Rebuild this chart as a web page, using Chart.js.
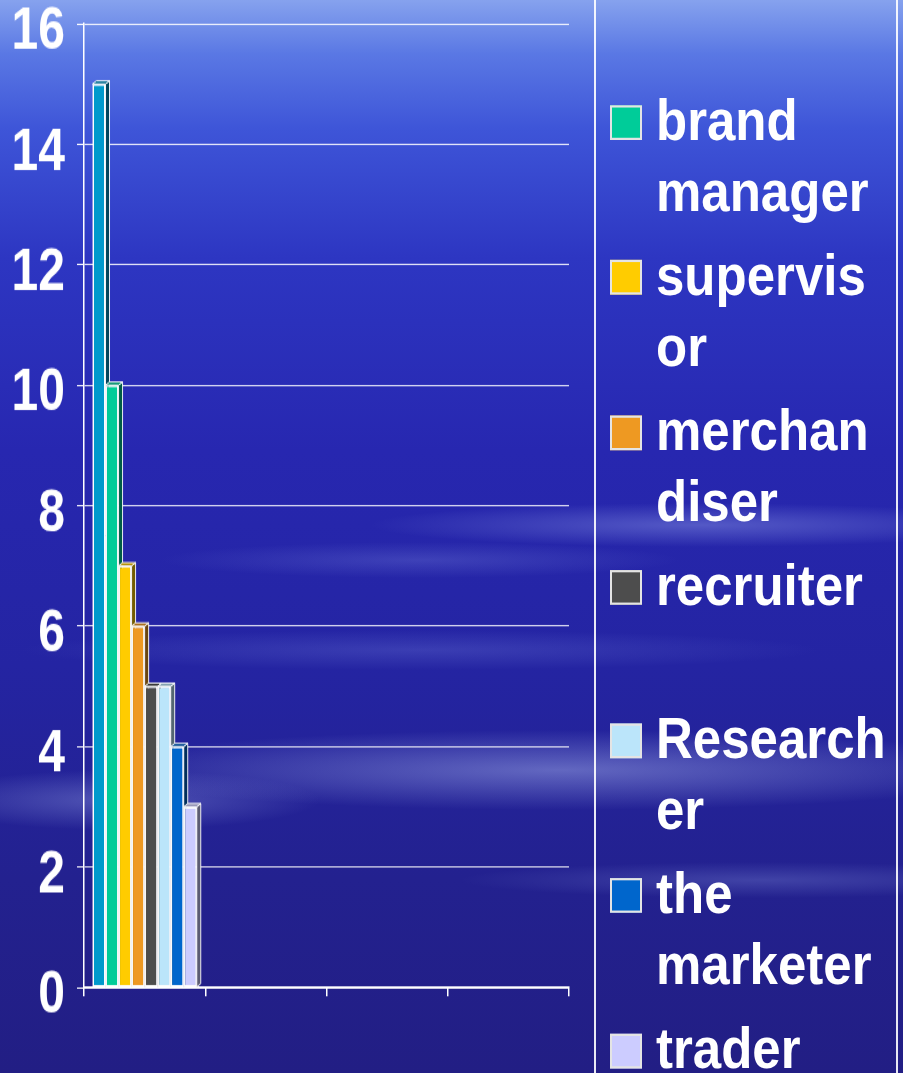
<!DOCTYPE html>
<html>
<head>
<meta charset="utf-8">
<script src="https://cdn.jsdelivr.net/npm/chart.js@4.4.1/dist/chart.umd.min.js"></script>
<style>
    html, body {
        margin: 0;
        padding: 0;
        width: 903px;
        height: 1073px;
        overflow: hidden;
    }
    body {
        position: relative;
        font-family: "Liberation Sans", Arial, sans-serif;
        background:
            radial-gradient(ellipse 330px 22px at 700px 525px, rgba(130, 140, 225, 0.5), transparent),
            radial-gradient(ellipse 260px 18px at 420px 560px, rgba(120, 130, 220, 0.3), transparent),
            radial-gradient(ellipse 480px 40px at 560px 770px, rgba(150, 160, 225, 0.55), transparent),
            radial-gradient(ellipse 200px 30px at 120px 800px, rgba(140, 150, 220, 0.45), transparent),
            radial-gradient(ellipse 300px 18px at 760px 880px, rgba(120, 130, 210, 0.35), transparent),
            radial-gradient(ellipse 400px 20px at 420px 650px, rgba(110, 120, 215, 0.3), transparent),
            linear-gradient(to bottom, #86a2ee 0%, #5a78e4 5%, #3e55d8 12%, #2d36c2 24%, #2727b0 42%, #2424a2 62%, #23218f 82%, #221e84 100%);
    }
    #chartBox {
        position: absolute;
        left: 0;
        top: 0;
        width: 590px;
        height: 859px;
        transform: scaleY(1.25);
        transform-origin: 0 0;
    }
    #legendFrame {
        position: absolute;
        left: 594px;
        top: -4px;
        width: 300px;
        height: 1090px;
        border-left: 2px solid rgba(255, 255, 255, 0.9);
        border-right: 2px solid rgba(255, 255, 255, 0.9);
    }
    #legend {
        position: absolute;
        left: 0;
        top: 0;
        width: 903px;
        height: 958px;
        transform: scaleY(1.12);
        transform-origin: 0 0;
    }
    .legend-list {
        position: absolute;
        left: 610px;
        top: 76px;
    }
    .legend-item {
        display: flex;
        align-items: flex-start;
        margin-bottom: 11.6px;
    }
    .legend-gap {
        height: 61.6px;
    }
    .legend-dot {
        box-sizing: border-box;
        width: 32px;
        height: 31px;
        margin-top: 18px;
        margin-right: 14px;
        border: 2px solid #e4e4e4;
        flex: none;
    }
    .legend-text {
        width: 233px;
        color: #ffffff;
        font-weight: bold;
        font-size: 51px;
        line-height: 63.4px;
        overflow-wrap: anywhere;
    }
</style>
</head>
<body>
<div id="chartBox"><canvas id="jobChart"></canvas></div>
<div id="legendFrame"></div>
<div id="legend"><div class="legend-list" id="legendList"></div></div>

<script>
const categories = ["", "", "", ""];
const seriesNames = ["", "brand manager", "supervisor", "merchandiser", "recruiter", "Researcher", "the marketer", "trader"];
const seriesValues = [15, 10, 7, 6, 5, 5, 4, 3];
const yMin = 0;
const yMax = 16;
const yStep = 2;

// legend order as shown, null = empty slot
const legendOrder = [1, 2, 3, 4, null, 5, 6, 7];

const seriesColors = ["#0099cc", "#00cc99", "#ffcc00", "#ee9922", "#4d4d4d", "#bbe5fa", "#0066cc", "#ccccff"];

function shade(hex, f) {
    const n = parseInt(hex.slice(1), 16);
    const r = Math.round(((n >> 16) & 255) * f);
    const g = Math.round(((n >> 8) & 255) * f);
    const b = Math.round((n & 255) * f);
    return `rgb(${Math.min(r, 255)}, ${Math.min(g, 255)}, ${Math.min(b, 255)})`;
}

// fake 3D: side + top face, then the front again, left to right
const depthBars = {
    id: "depthBars",
    afterDatasetsDraw(chart) {
        const ctx = chart.ctx;
        const dx = 4, dy = 2.6;
        chart.data.datasets.forEach((ds, i) => {
            const meta = chart.getDatasetMeta(i);
            meta.data.forEach((bar, j) => {
                if (ds.data[j] == null) return;
                const { x, y, base, width } = bar.getProps(["x", "y", "base", "width"], true);
                const l = x - width / 2, r = x + width / 2;
                ctx.save();
                ctx.strokeStyle = "rgba(255,255,255,0.9)";
                ctx.lineWidth = 1;
                ctx.beginPath();
                ctx.moveTo(r, y);
                ctx.lineTo(r + dx, y - dy);
                ctx.lineTo(r + dx, base - dy);
                ctx.lineTo(r, base);
                ctx.closePath();
                ctx.fillStyle = shade(seriesColors[i], 0.45);
                ctx.fill();
                ctx.stroke();
                ctx.beginPath();
                ctx.moveTo(l, y);
                ctx.lineTo(l + dx, y - dy);
                ctx.lineTo(r + dx, y - dy);
                ctx.lineTo(r, y);
                ctx.closePath();
                ctx.fillStyle = shade(seriesColors[i], 0.7);
                ctx.fill();
                ctx.stroke();
                ctx.restore();
                bar.draw(ctx);
            });
        });
    }
};

function drawLegend() {
    const list = document.getElementById("legendList");
    list.innerHTML = legendOrder.map(i => {
        if (i === null) return `<div class="legend-gap"></div>`;
        return `
            <div class="legend-item">
                <span class="legend-dot" style="background: ${seriesColors[i]};"></span>
                <span class="legend-text">${seriesNames[i]}</span>
            </div>`;
    }).join("");
}

function drawChart() {
    const datasets = seriesNames.map((name, i) => ({
        label: name,
        data: categories.map((c, k) => (k === 0 ? seriesValues[i] : null)),
        backgroundColor: seriesColors[i],
        borderColor: "rgba(255,255,255,0.95)",
        borderWidth: 1.5,
        borderSkipped: false
    }));

    new Chart(document.getElementById("jobChart"), {
        type: "bar",
        data: { labels: categories, datasets },
        options: {
            responsive: true,
            maintainAspectRatio: false,
            animation: false,
            events: [],
            layout: { padding: { top: 19, right: 21, left: 0, bottom: 0 } },
            datasets: { bar: { categoryPercentage: 0.86, barPercentage: 1.0 } },
            plugins: {
                legend: { display: false },
                tooltip: { enabled: false }
            },
            scales: {
                x: {
                    grid: {
                        display: true,
                        drawOnChartArea: false,
                        color: "#ffffff",
                        tickColor: "#ffffff",
                        tickLength: 7,
                        lineWidth: 1.5
                    },
                    border: { display: true, color: "#ffffff", width: 2 },
                    ticks: { display: true, font: { size: 10 } },
                    afterFit(scale) {
                        scale.height = 69;
                        scale.paddingLeft = 0;
                        scale.paddingRight = 0;
                    }
                },
                y: {
                    min: yMin,
                    max: yMax,
                    ticks: {
                        stepSize: yStep,
                        color: "#ffffff",
                        padding: 12,
                        labelOffset: 7,
                        font: { family: "'Liberation Sans', Arial, sans-serif", size: 48, weight: "bold" }
                    },
                    grid: {
                        color: "rgba(255,255,255,0.9)",
                        tickColor: "#ffffff",
                        tickLength: 7,
                        lineWidth: 1
                    },
                    border: { display: true, color: "#ffffff", width: 1.5 },
                    afterFit(scale) {
                        scale.width = 84;
                        scale.paddingTop = 0;
                        scale.paddingBottom = 0;
                    }
                }
            }
        },
        plugins: [depthBars]
    });
}

window.addEventListener("DOMContentLoaded", () => {
    drawLegend();
    drawChart();
});
</script>
</body>
</html>
